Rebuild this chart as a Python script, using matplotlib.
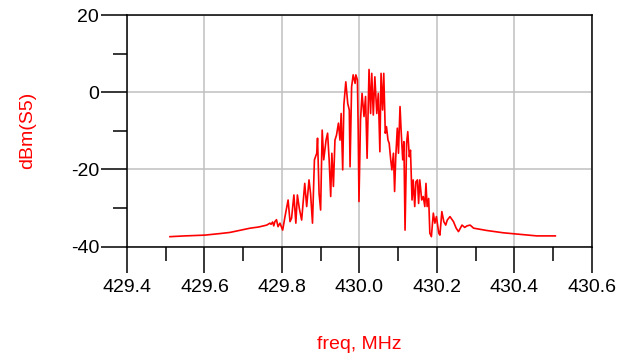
import numpy as np
import matplotlib
matplotlib.use("Agg")
import matplotlib.pyplot as plt
from matplotlib.ticker import MultipleLocator

plt.rcParams['font.family'] = ['Liberation Sans', 'DejaVu Sans']
plt.rcParams['axes.unicode_minus'] = False

# spectrum (freq in MHz, level in dBm)
freq = [429.511, 429.55, 429.601, 429.64, 429.666, 429.69, 429.718, 429.74, 429.761,
        429.769, 429.772, 429.776, 429.779, 429.782, 429.786, 429.790, 429.795, 429.802,
        429.808, 429.816, 429.821, 429.825, 429.831,
        429.836, 429.840, 429.845, 429.851, 429.855, 429.859, 429.864, 429.870, 429.874,
        429.879, 429.884, 429.890, 429.892, 429.896, 429.900, 429.904, 429.908, 429.914,
        429.918, 429.922, 429.926, 429.929, 429.933, 429.937, 429.941, 429.946, 429.950,
        429.953, 429.957, 429.960, 429.965, 429.970, 429.974, 429.976, 429.980, 429.984,
        429.989, 429.991, 429.995, 429.997, 429.999, 430.003, 430.007, 430.012, 430.016,
        430.020, 430.025, 430.029, 430.032, 430.036, 430.040, 430.045, 430.049, 430.053,
        430.056, 430.060, 430.063, 430.067, 430.070, 430.074, 430.077, 430.081, 430.084,
        430.088, 430.091, 430.094, 430.098, 430.101, 430.105, 430.108, 430.112, 430.115,
        430.118, 430.122, 430.125, 430.129, 430.132, 430.136, 430.139, 430.143, 430.146,
        430.150, 430.153, 430.156, 430.161, 430.165, 430.169, 430.172, 430.175, 430.179,
        430.182, 430.186, 430.191, 430.195, 430.199, 430.205, 430.208, 430.213, 430.218,
        430.223, 430.227, 430.234, 430.243, 430.250, 430.256, 430.265, 430.272, 430.278,
        430.286, 430.295, 430.312, 430.329, 430.372, 430.415, 430.458, 430.506]
dbm = [-37.4, -37.2, -37.0, -36.6, -36.3, -35.8, -35.2, -34.9, -34.4,
       -33.9, -34.2, -33.6, -34.6, -33.5, -33.0, -34.8, -33.9, -35.7,
       -32.2, -27.9, -33.5, -32.6, -26.6,
       -33.9, -26.6, -30.1, -33.1, -28.3, -23.6, -29.6, -22.7, -26.2,
       -33.9, -17.5, -15.8, -11.9, -26.2, -30.5, -9.8, -17.5, -12.4,
       -10.6, -17.5, -27.0, -15.8, -24.4, -12.4, -11.1, -8.0, -12.4,
       -5.5, -20.1, -3.3, 2.7, -2.9, -4.6, -19.3, 1.4, 4.5,
       2.3, 4.5, 3.2, -9.8, -28.3, -7.2, -0.3, -6.3, -1.1,
       -17.1, 5.9, -5.5, 4.9, -5.9, 4.0, -5.5, -0.3, -15.4,
       4.9, -4.6, 4.9, -10.6, -8.9, -12.4, -13.2, -17.5, -20.1,
       -15.8, -25.7, -16.7, -9.3, -15.8, -3.7, -10.2, -17.5, -12.8,
       -35.7, -13.2, -10.2, -16.7, -15.0, -27.9, -22.7, -29.6, -23.2,
       -22.7, -28.8, -22.7, -27.9, -27.0, -29.6, -23.6, -29.6, -27.5,
       -36.5, -37.4, -31.3, -33.9, -32.2, -36.5, -37.0, -30.9, -33.5,
       -34.4, -33.1, -32.2, -33.5, -35.2, -36.1, -34.4, -35.0, -34.6,
       -34.4, -35.2, -35.5, -35.8, -36.4, -36.8, -37.2, -37.2]

fig = plt.figure(figsize=(6.33, 3.6), dpi=100)
ax = fig.add_axes([0.2006, 0.3147, 0.7342, 0.6436])

ax.plot(freq, dbm, color='red', lw=1.2)

ax.set_xlim(429.4, 430.6)
ax.set_ylim(-40, 20)
ax.xaxis.set_major_locator(MultipleLocator(0.2))
ax.xaxis.set_minor_locator(MultipleLocator(0.1))
ax.yaxis.set_major_locator(MultipleLocator(20))
ax.yaxis.set_minor_locator(MultipleLocator(10))
ax.xaxis.set_major_formatter(plt.FuncFormatter(lambda v, p: '%.1f' % v))

ax.grid(True, which='major', color='#c0c0c0', lw=1.1)
ax.set_axisbelow(True)
for s in ax.spines.values():
    s.set_linewidth(1.1)
    s.set_color('black')

ax.tick_params(which='major', direction='out', length=19, width=1.1, labelsize=14, pad=4)
ax.tick_params(which='minor', direction='out', length=10, width=1.1)
ax.tick_params(axis='y', which='major', pad=1)

ax.set_xlabel('freq, MHz', color='red', fontsize=14)
ax.xaxis.set_label_coords(0.5, -0.424)
ax.xaxis.label.set_va('center')
ax.set_ylabel('dBm(S5)', color='red', fontsize=14)
ax.yaxis.set_label_coords(-0.213, 0.5)
ax.yaxis.label.set_va('center')

fig.savefig('out.png', dpi=100)
